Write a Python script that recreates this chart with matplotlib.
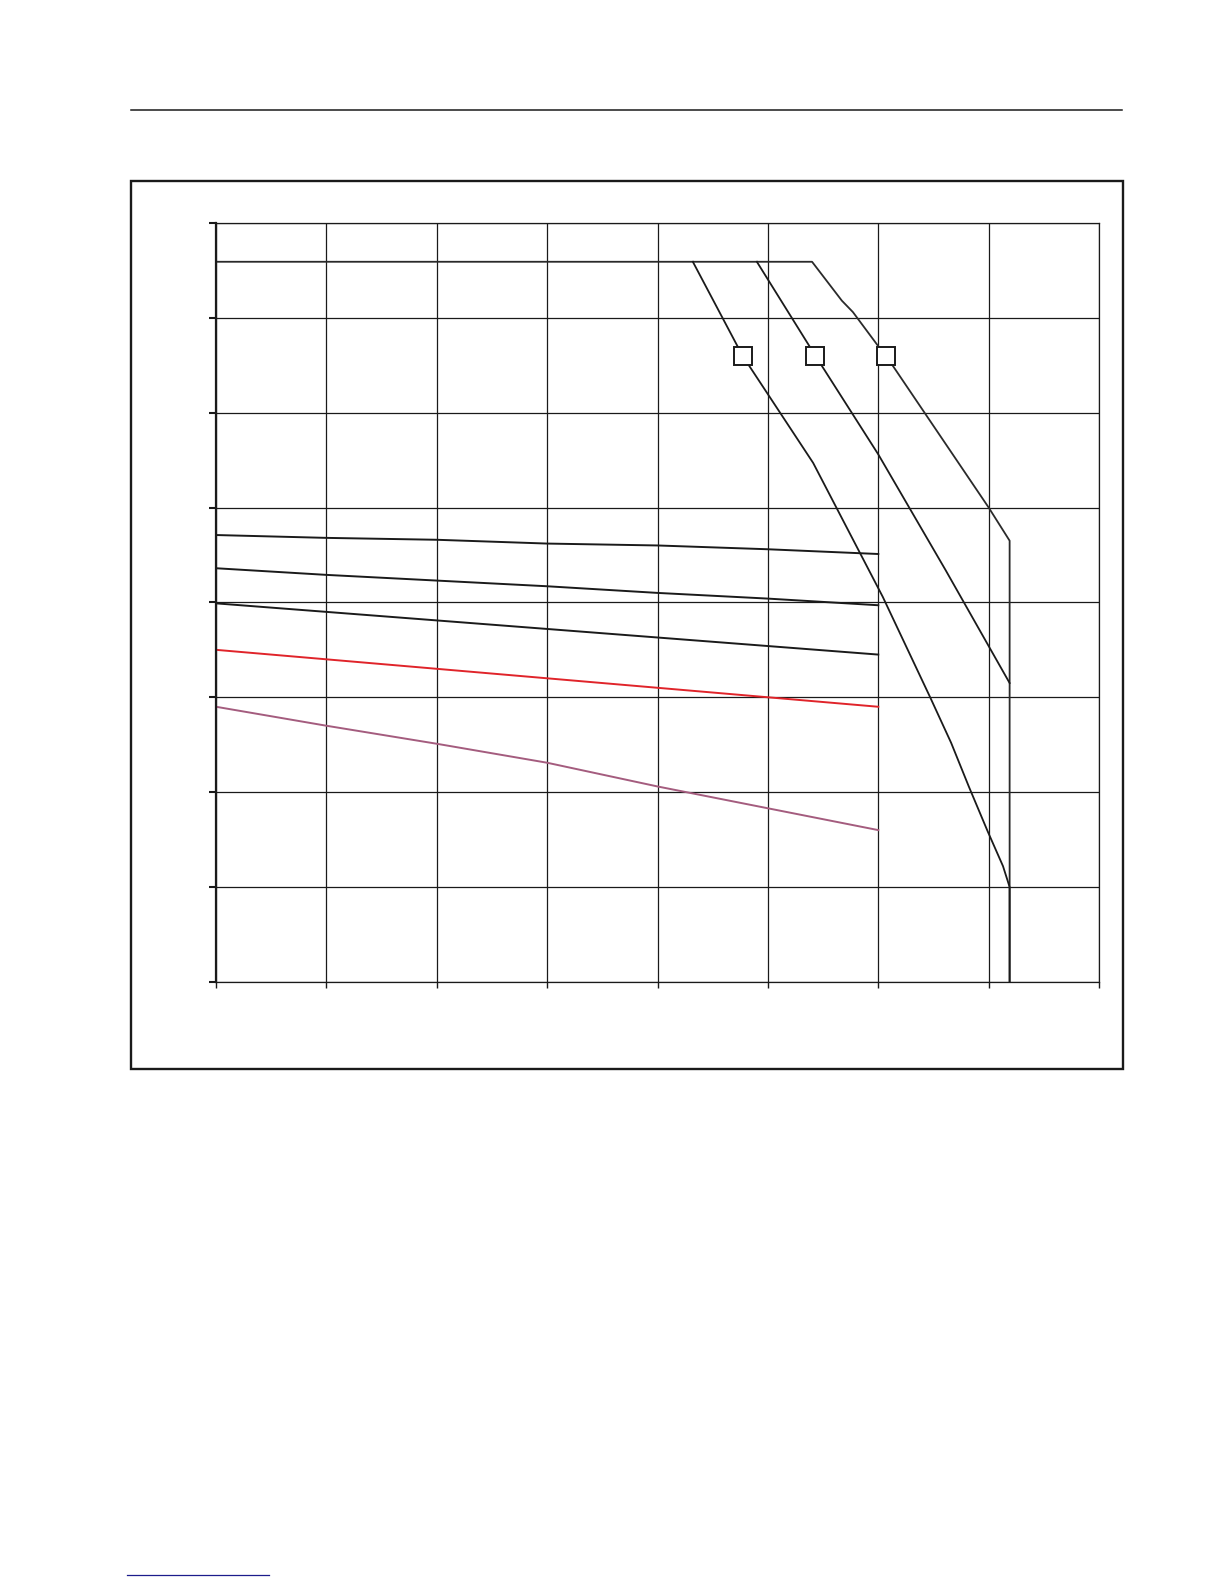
import matplotlib
matplotlib.use("Agg")
import matplotlib.pyplot as plt
from matplotlib.patches import Rectangle
from matplotlib.lines import Line2D

# grid / tick values (no labels shown in the chart)
x_ticks = [0, 20, 40, 60, 80, 100, 120, 140, 160]
y_ticks = [0, 10, 20, 30, 40, 50, 60, 70, 80]

# steady lines, read at every gridline up to x=120
x_steady = [0, 20, 40, 60, 80, 100, 120]
y_black1 = [47.1, 46.8, 46.6, 46.2, 46.0, 45.6, 45.1]
y_black2 = [43.6, 42.9, 42.3, 41.7, 41.0, 40.4, 39.7]
y_black3 = [39.9, 39.0, 38.1, 37.2, 36.3, 35.4, 34.5]
y_red = [35.0, 34.0, 33.0, 32.0, 31.0, 30.0, 29.0]
y_purple = [29.0, 27.0, 25.1, 23.1, 20.6, 18.3, 16.0]

# derating curves
curve_a_x = [86.4, 95.4, 108.2, 116.6, 120.8, 129.4, 133.2, 136.4, 139.8, 142.6, 143.8, 143.8]
curve_a_y = [75.9, 66.0, 54.7, 45.3, 40.6, 30.0, 25.2, 20.6, 15.9, 12.2, 10.0, 0]
curve_b_x = [98.0, 108.6, 120.0, 132.2, 143.8]
curve_b_y = [75.9, 66.0, 55.6, 43.4, 31.5]
curve_c_x = [0, 108.0, 113.4, 115.4, 120.0, 121.4, 140.0, 143.8, 143.8]
curve_c_y = [75.9, 75.9, 71.8, 70.6, 67.0, 66.0, 50.0, 46.5, 0]

# label boxes sitting on the curves
box_x = [95.4, 108.6, 121.4]
box_y = [66.0, 66.0, 66.0]

fig = plt.figure(figsize=(12.24, 15.84), dpi=100)
ax = fig.add_axes([0.1765, 0.3801, 0.7214, 0.4792])

ax.set_xlim(0, 160)
ax.set_ylim(0, 80)
ax.set_xticks(x_ticks)
ax.set_yticks(y_ticks)
ax.set_xticklabels([])
ax.set_yticklabels([])
ax.grid(True, color='#1a1a1a', linewidth=0.9)
ax.set_axisbelow(True)
ax.tick_params(axis='y', direction='out', length=5, width=1.5, color='#1a1a1a')
ax.tick_params(axis='x', direction='out', length=4.5, width=1.0, color='#1a1a1a')
for side in ['top', 'right', 'bottom']:
    ax.spines[side].set_linewidth(0.9)
    ax.spines[side].set_color('#1a1a1a')
ax.spines['left'].set_linewidth(1.6)
ax.spines['left'].set_color('#1a1a1a')

# steady lines
ax.plot(x_steady, y_black1, color='#1a1a1a', lw=1.4)
ax.plot(x_steady, y_black2, color='#1a1a1a', lw=1.4)
ax.plot(x_steady, y_black3, color='#1a1a1a', lw=1.4)
ax.plot(x_steady, y_red, color='#e0242a', lw=1.4)
ax.plot(x_steady, y_purple, color='#a45c7e', lw=1.4)

# derating curves
ax.plot(curve_c_x, curve_c_y, color='#2a2a2a', lw=1.3)
ax.plot(curve_a_x, curve_a_y, color='#1a1a1a', lw=1.3)
ax.plot(curve_b_x, curve_b_y, color='#1a1a1a', lw=1.3)
ax.plot(box_x, box_y, linestyle='none', marker='s', markersize=12.5,
        markerfacecolor='white', markeredgecolor='#1a1a1a', markeredgewidth=1.4, zorder=5)

# outer frame around the chart
fig.patches.append(Rectangle((0.1070, 0.3251), 0.8105, 0.5606, transform=fig.transFigure,
                             fill=False, edgecolor='#1a1a1a', linewidth=1.7))
# page header rule and footer link line
fig.lines.append(Line2D([0.107, 0.9167], [0.9306, 0.9306], transform=fig.transFigure,
                        color='#1a1a1a', linewidth=1.1))
fig.lines.append(Line2D([0.1038, 0.2198], [0.0057, 0.0057], transform=fig.transFigure,
                        color='#1c1c8c', linewidth=0.9))

fig.savefig('out.png', dpi=100)
